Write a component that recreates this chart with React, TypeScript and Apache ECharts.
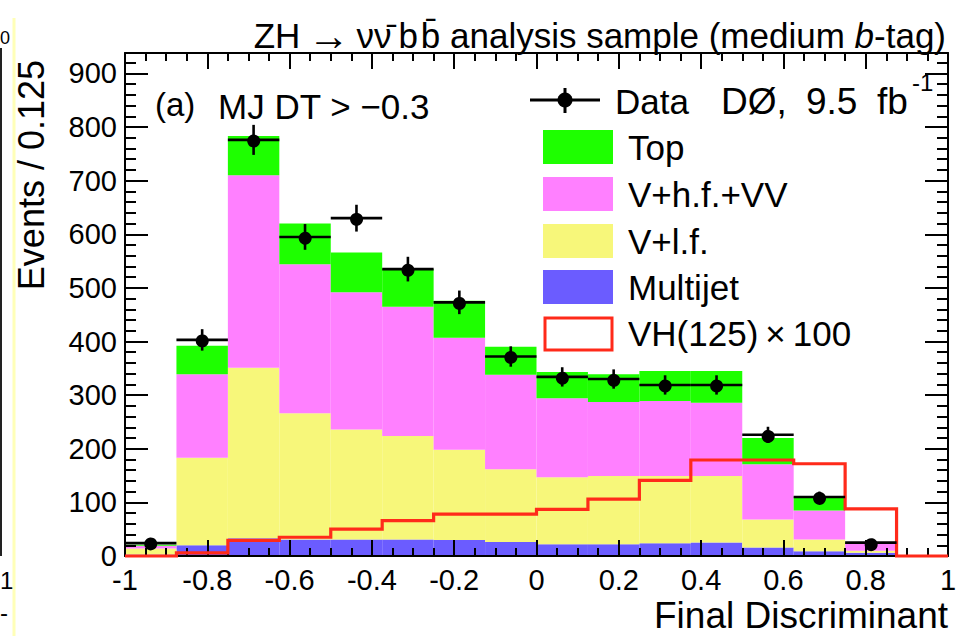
import React, { useEffect, useRef } from 'react';
import * as echarts from 'echarts';

// Histogram binning of the final discriminant (16 bins of width 0.125)
const binEdges = [-1, -0.875, -0.75, -0.625, -0.5, -0.375, -0.25, -0.125, 0, 0.125, 0.25, 0.375, 0.5, 0.625, 0.75, 0.875, 1];

// Background expectations per bin (events)
const multijet = [3, 20, 33, 31, 31, 31, 30, 26, 22, 22, 24, 25, 16, 9, 6, 0];
const vPlusLf = [11, 163, 318, 235, 205, 193, 168, 136, 125, 127, 125, 124, 52, 22, 4, 0];
const vPlusHfVV = [5, 156, 359, 278, 256, 241, 209, 176, 147, 138, 140, 137, 103, 54, 13, 0];
const topQuark = [2, 53, 73, 76, 74, 70, 69, 52, 49, 52, 56, 59, 49, 26, 2, 0];

// Signal VH(125) scaled by 100
const signalX100 = [0, 6, 29, 35, 50, 66, 78, 78, 87, 106, 141, 179, 179, 172, 88, 0];

// Observed data and statistical uncertainties
const dataCounts = [24, 403, 776, 595, 630, 535, 473, 372, 334, 330, 319, 319, 226, 110, 25, null];
const dataErrors = [5, 20, 28, 24, 25, 23, 22, 19, 18, 18, 18, 18, 15, 10, 5, 0];

const FONT = '"Liberation Sans", Arial, Helvetica, sans-serif';

const COLORS = {
  multijet: '#6B5CFF',
  vlf: '#F7F77A',
  vhf: '#FF80FF',
  top: '#1EFF00',
  signal: '#FF2A1A',
};

const backgrounds = [
  { name: 'Multijet', values: multijet, color: COLORS.multijet },
  { name: 'V+l.f.', values: vPlusLf, color: COLORS.vlf },
  { name: 'V+h.f.+VV', values: vPlusHfVV, color: COLORS.vhf },
  { name: 'Top', values: topQuark, color: COLORS.top },
];

function buildOption() {
  const cumulative = binEdges.slice(0, -1).map(() => 0);
  const stackSeries = backgrounds.map((bkg) => {
    const rows = bkg.values.map((v, i) => {
      const lo = cumulative[i];
      cumulative[i] += v;
      return [binEdges[i], binEdges[i + 1], lo, cumulative[i]];
    });
    return {
      type: 'custom',
      name: bkg.name,
      xAxisIndex: 0,
      yAxisIndex: 0,
      silent: true,
      z: 2,
      data: rows,
      encode: { x: [0, 1], y: [2, 3] },
      renderItem: (params: any, api: any) => {
        const p0 = api.coord([api.value(0), api.value(3)]);
        const p1 = api.coord([api.value(1), api.value(2)]);
        return {
          type: 'rect',
          shape: { x: p0[0], y: p0[1], width: p1[0] - p0[0], height: p1[1] - p0[1] },
          style: { fill: bkg.color },
        };
      },
    };
  });

  const signalPoints: number[][] = [];
  signalX100.forEach((v, i) => {
    signalPoints.push([binEdges[i], v]);
    signalPoints.push([binEdges[i + 1], v]);
  });

  const dataRows: number[][] = [];
  dataCounts.forEach((v, i) => {
    if (v === null) return;
    dataRows.push([(binEdges[i] + binEdges[i + 1]) / 2, binEdges[i], binEdges[i + 1], v, dataErrors[i]]);
  });

  const tickStyle = { color: '#000', width: 2 };
  const lineStyle = { color: '#000', width: 2 };
  const baseAxis = {
    type: 'value',
    splitLine: { show: false },
    axisLine: { show: false, onZero: false },
    axisLabel: { show: false },
    z: 5,
  };

  const xAxes = [
    {
      ...baseAxis, position: 'bottom', min: -1, max: 1, interval: 0.2,
      axisLine: { show: true, onZero: false, lineStyle },
      axisTick: { show: true, inside: true, length: 16, lineStyle: tickStyle },
      axisLabel: { show: true, color: '#000', fontSize: 29, fontFamily: FONT, margin: 9 },
    },
    {
      ...baseAxis, position: 'bottom', min: -1, max: 1, interval: 0.05,
      axisTick: { show: true, inside: true, length: 8, lineStyle: tickStyle },
    },
    {
      ...baseAxis, position: 'top', min: -1, max: 1, interval: 0.2,
      axisLine: { show: true, onZero: false, lineStyle },
      axisTick: { show: true, inside: true, length: 16, lineStyle: tickStyle },
    },
    {
      ...baseAxis, position: 'top', min: -1, max: 1, interval: 0.05,
      axisTick: { show: true, inside: true, length: 8, lineStyle: tickStyle },
    },
  ];

  const Y_MAX = 938;
  const yAxes = [
    {
      ...baseAxis, position: 'left', min: 0, max: Y_MAX, interval: 100,
      axisLine: { show: true, onZero: false, lineStyle },
      axisTick: { show: true, inside: true, length: 23, lineStyle: tickStyle },
      axisLabel: {
        show: true, color: '#000', fontSize: 29, fontFamily: FONT, margin: 8,
        formatter: (v: number) => (Math.abs(v % 100) < 1e-6 ? String(v) : ''),
      },
    },
    {
      ...baseAxis, position: 'left', min: 0, max: Y_MAX, interval: 20,
      axisTick: { show: true, inside: true, length: 11, lineStyle: tickStyle },
    },
    {
      ...baseAxis, position: 'right', min: 0, max: Y_MAX, interval: 100,
      axisLine: { show: true, onZero: false, lineStyle },
      axisTick: { show: true, inside: true, length: 23, lineStyle: tickStyle },
    },
    {
      ...baseAxis, position: 'right', min: 0, max: Y_MAX, interval: 20,
      axisTick: { show: true, inside: true, length: 11, lineStyle: tickStyle },
    },
  ];

  const text = (x: number, y: number, str: string, size: number, align = 'left', extra: any = {}) => ({
    type: 'text',
    x,
    y,
    z: 30,
    silent: true,
    style: { text: str, fill: '#000', fontSize: size, fontFamily: FONT, align, verticalAlign: 'middle', ...extra },
  });

  const legendEntries = [
    { label: 'Top', color: COLORS.top, y: 147 },
    { label: 'V+h.f.+VV', color: COLORS.vhf, y: 194 },
    { label: 'V+l.f.', color: COLORS.vlf, y: 241 },
    { label: 'Multijet', color: COLORS.multijet, y: 287 },
  ];

  const graphics: any[] = [
    // edge of the neighbouring panel
    { type: 'line', z: 30, silent: true, shape: { x1: 14, y1: 18, x2: 14, y2: 636 }, style: { stroke: '#FFFFB8', lineWidth: 3 } },
    { type: 'line', z: 30, silent: true, shape: { x1: 1, y1: 48, x2: 1, y2: 556 }, style: { stroke: '#222', lineWidth: 2 } },
    text(0, 38, '0', 18),
    text(0, 580, '1', 24),
    text(0, 612, '-', 24),

    // title
    {
      type: 'text', x: 946, y: 35, z: 30, silent: true,
      style: {
        text: '{n|ZH\u2009}{a|\u2192}{n|\u2009\u03BD\u03BD\u0304\u2009b\u200Ab\u0304 analysis sample (medium }{i|b}{n|-tag)}',
        fill: '#000', fontSize: 35, fontFamily: FONT, align: 'right', verticalAlign: 'middle',
        rich: {
          n: { fontSize: 35, fontFamily: FONT, fill: '#000' },
          a: { fontSize: 42, fontFamily: FONT, fill: '#000' },
          i: { fontSize: 35, fontFamily: FONT, fill: '#000', fontStyle: 'italic' },
        },
      },
    },

    // axis titles
    {
      type: 'text', x: 31, y: 60, rotation: Math.PI / 2, z: 30, silent: true,
      style: { text: 'Events / 0.125', fill: '#000', fontSize: 36, fontFamily: FONT, align: 'right', verticalAlign: 'middle' },
    },
    text(948, 615, 'Final Discriminant', 37, 'right'),

    // panel annotation
    text(155, 104, '(a)', 33),
    text(218, 106, 'MJ DT > \u22120.3', 35),

    // legend: data
    { type: 'line', z: 30, silent: true, shape: { x1: 530, y1: 100, x2: 600, y2: 100 }, style: { stroke: '#000', lineWidth: 3 } },
    { type: 'line', z: 30, silent: true, shape: { x1: 565, y1: 88, x2: 565, y2: 113 }, style: { stroke: '#000', lineWidth: 3 } },
    { type: 'circle', z: 31, silent: true, shape: { cx: 565, cy: 100, r: 7.5 }, style: { fill: '#000' } },
    text(615, 101, 'Data', 35),

    // experiment and luminosity
    text(721, 101, 'D\u00D8,', 37),
    text(806, 101, '9.5', 37),
    text(877, 101, 'fb', 37),
    text(912, 82, '-1', 24),

    // legend: signal outline
    { type: 'rect', z: 30, silent: true, shape: { x: 545, y: 318, width: 67, height: 32 }, style: { fill: '#fff', stroke: COLORS.signal, lineWidth: 3 } },
    text(628, 333, 'VH(125)\u2009\u00D7\u2009100', 35),
  ];

  legendEntries.forEach((e) => {
    graphics.push({
      type: 'rect', z: 30, silent: true,
      shape: { x: 543, y: e.y - 17, width: 70, height: 34 },
      style: { fill: e.color },
    });
    graphics.push(text(628, e.y, e.label, 35));
  });

  return {
    animation: false,
    backgroundColor: '#fff',
    grid: { left: 125, right: 12, top: 53, bottom: 80, containLabel: false },
    xAxis: xAxes,
    yAxis: yAxes,
    graphic: graphics,
    series: [
      ...stackSeries,
      {
        type: 'line',
        name: 'VH(125) x 100',
        xAxisIndex: 0,
        yAxisIndex: 0,
        data: signalPoints,
        symbol: 'none',
        clip: false,
        silent: true,
        z: 10,
        lineStyle: { color: COLORS.signal, width: 3.2, join: 'miter' },
      },
      {
        type: 'custom',
        name: 'Data',
        xAxisIndex: 0,
        yAxisIndex: 0,
        silent: true,
        z: 12,
        data: dataRows,
        encode: { x: 0, y: 3 },
        renderItem: (params: any, api: any) => {
          const xc = api.value(0);
          const y = api.value(3);
          const err = api.value(4);
          const c = api.coord([xc, y]);
          const left = api.coord([api.value(1), y]);
          const right = api.coord([api.value(2), y]);
          const up = api.coord([xc, y + err]);
          const down = api.coord([xc, y - err]);
          return {
            type: 'group',
            children: [
              { type: 'line', shape: { x1: left[0], y1: c[1], x2: right[0], y2: c[1] }, style: { stroke: '#000', lineWidth: 2.6 } },
              { type: 'line', shape: { x1: c[0], y1: up[1], x2: c[0], y2: down[1] }, style: { stroke: '#000', lineWidth: 2.6 } },
              { type: 'circle', shape: { cx: c[0], cy: c[1], r: 6.5 }, style: { fill: '#000' } },
            ],
          };
        },
      },
    ],
  };
}

export default function App() {
  const ref = useRef<HTMLDivElement>(null);

  useEffect(() => {
    document.body.style.margin = '0';
    if (!ref.current) return;
    const chart = echarts.init(ref.current, undefined, { renderer: 'svg' });
    chart.setOption(buildOption() as any);
    return () => chart.dispose();
  }, []);

  return <div ref={ref} style={{ width: 960, height: 636 }} />;
}
